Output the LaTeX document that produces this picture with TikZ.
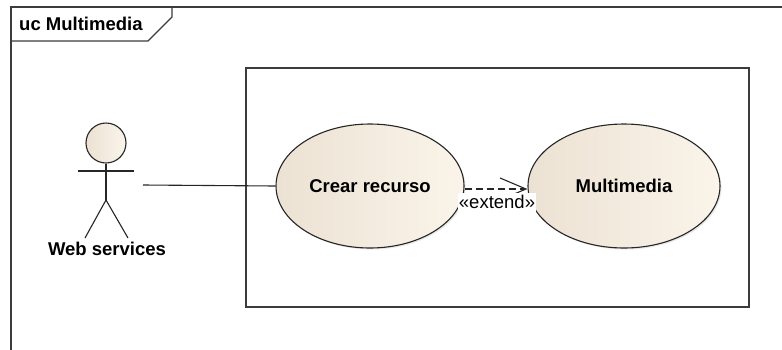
\documentclass[tikz,border=0pt]{standalone}
\usepackage{fontspec}
\setmainfont{Liberation Sans}
\usetikzlibrary{shapes.geometric,arrows.meta,shadows}
\definecolor{ucdark}{RGB}{236,226,211}
\definecolor{uclight}{RGB}{250,244,234}
\definecolor{lineclr}{RGB}{60,60,60}
\begin{document}
\begin{tikzpicture}[x=1pt,y=-1pt,
  frameline/.style={draw=lineclr, line width=1.7pt},
  usecase/.style={ellipse, draw=black!85, line width=1.1pt, inner sep=0pt,
    minimum height=124pt, left color=ucdark, right color=uclight,
    font=\fontsize{18.5}{21}\selectfont\bfseries,
    drop shadow={opacity=0.18, shadow xshift=1.5pt, shadow yshift=-1.5pt}},
  actorline/.style={draw=black!85, line width=1.1pt},
  boldlabel/.style={font=\fontsize{18.5}{21}\selectfont\bfseries, inner sep=1pt},
  extendlabel/.style={font=\fontsize{18.5}{21}\selectfont, fill=white, inner xsep=0.5pt, inner ysep=0pt,
    text height=15pt, text depth=5pt},
  assocline/.style={draw=black!85, line width=1.1pt},
  extendline/.style={draw=black!85, line width=1.1pt, dash pattern=on 7pt off 4pt,
    -{Straight Barb[length=26pt,width=22pt,line width=1.1pt]}}
]
\useasboundingbox (0,0) rectangle (782,349);
\clip (0,0) rectangle (782,349);
% outer diagram frame
\draw[frameline] (11,360) -- (11,7) -- (790,7);
\draw[draw=lineclr, line width=1.2pt] (11,41) -- (148,41) -- (172,17) -- (172,7);
\node[boldlabel, anchor=west] (title) at (18,24) {uc Multimedia};
% system boundary
\node[draw=lineclr, line width=1.7pt, minimum width=503pt, minimum height=239pt, inner sep=0pt] (system) at (497.5,187.5) {};
% use cases
\node[usecase, minimum width=188pt] (crear) at (370,186) {Crear recurso};
\node[usecase, minimum width=192pt] (multi) at (624,186) {Multimedia};
% actor
\node[circle, draw=black!85, line width=1.1pt, minimum size=40pt, inner sep=0pt,
  left color=ucdark, right color=uclight] (head) at (106,143) {};
\coordinate (hip) at (106,200);
\coordinate (larm) at (78,171);
\coordinate (rarm) at (134,171);
\coordinate (lfoot) at (85,238);
\coordinate (rfoot) at (128,238);
\draw[actorline] (head.south) -- (hip);
\draw[actorline] (larm) -- (rarm);
\draw[actorline] (lfoot) -- (hip) -- (rfoot);
\node[boldlabel] (actorlabel) at (107,249) {Web services};
% association
\coordinate (assoc) at (143,185);
\draw[assocline] (assoc) -- (crear.west);
% extend
\draw[extendline] ([yshift=-3pt]crear.east) -- ([yshift=-3pt]multi.west);
\node[extendlabel] (extlabel) at (497,203) {«extend»};
\end{tikzpicture}
\end{document}
